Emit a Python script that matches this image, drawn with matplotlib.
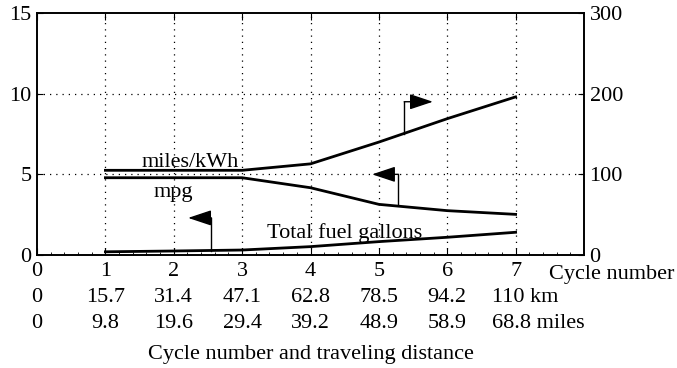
import numpy as np
import matplotlib.pyplot as plt
from matplotlib.ticker import MultipleLocator
import matplotlib.transforms as mtransforms

plt.rcParams['font.family'] = ['Liberation Serif', 'DejaVu Serif']
plt.rcParams['font.size'] = 16

# cycle data
cycles = [1, 2, 3, 4, 5, 6, 7]
miles_per_kwh = [105, 105, 105, 113, 140, 169, 196]   # right axis
mpg = [4.79, 4.79, 4.79, 4.17, 3.14, 2.75, 2.52]       # left axis
fuel_gallons = [0.20, 0.25, 0.31, 0.52, 0.83, 1.10, 1.41]  # left axis

tick_cycles = [0, 1, 2, 3, 4, 5, 6, 7]
km_labels = ['0', '15.7', '31.4', '47.1', '62.8', '78.5', '94.2']
mile_labels = ['0', '9.8', '19.6', '29.4', '39.2', '48.9', '58.9']

fig = plt.figure(figsize=(6.77, 3.68), dpi=100)
ax = fig.add_axes([0.0547, 0.307, 0.8079, 0.6577])
ax2 = ax.twinx()

ax.set_xlim(0, 8)
ax.set_ylim(0, 15)
ax2.set_ylim(0, 300)

dots = (0, (1, 4))
for x in cycles:
    ax.axvline(x, color='black', lw=0.9, ls=dots, zorder=1)
for y in [5, 10]:
    ax.axhline(y, color='black', lw=0.9, ls=dots, zorder=1)

ax.plot(cycles, mpg, color='black', lw=2, zorder=3)
ax.plot(cycles, fuel_gallons, color='black', lw=2, zorder=3)
ax2.plot(cycles, miles_per_kwh, color='black', lw=2, zorder=3)

# curve labels
ax.text(2.24, 5.75, 'miles/kWh', ha='center', va='center')
ax.text(1.99, 3.85, 'mpg', ha='center', va='center')
ax.text(4.5, 1.36, 'Total fuel gallons', ha='center', va='center')

# axis pointers
def pointer(x0, y0, y1, x1):
    ax.plot([x0, x0], [y0, y1], color='black', lw=1, zorder=4)
    ax.annotate('', xy=(x1, y1), xytext=(x0, y1),
                arrowprops=dict(arrowstyle='-|>,head_length=0.9,head_width=0.3',
                                color='black', lw=1, shrinkA=0, shrinkB=0))

pointer(5.37, 7.5, 9.5, 5.79)
pointer(5.28, 3.1, 5.0, 4.9)
pointer(2.55, 0.27, 2.3, 2.21)

# ticks
ax.set_xticks(tick_cycles)
ax.set_xticklabels([str(c) for c in tick_cycles])
ax.xaxis.set_minor_locator(MultipleLocator(0.2))
ax.set_yticks([0, 5, 10, 15])
ax2.set_yticks([0, 100, 200, 300])
ax.tick_params(axis='x', which='major', direction='in', top=True, length=5, pad=5)
ax.tick_params(axis='x', which='minor', direction='in', top=False, length=2)
ax.tick_params(axis='y', direction='in', length=4, pad=4)
ax2.tick_params(axis='y', direction='in', length=4, pad=4)
for a in (ax, ax2):
    for s in a.spines.values():
        s.set_linewidth(1.2)

# distance rows under the cycle numbers
trans = mtransforms.blended_transform_factory(ax.transData, fig.transFigure)
for x, km, mi in zip(tick_cycles, km_labels, mile_labels):
    fig.text(x, 1 - 297 / 368, km, transform=trans, ha='center', va='center')
    fig.text(x, 1 - 324 / 368, mi, transform=trans, ha='center', va='center')
fig.text(6.65, 1 - 297 / 368, '110 km', transform=trans, ha='left', va='center')
fig.text(6.65, 1 - 324 / 368, '68.8 miles', transform=trans, ha='left', va='center')
fig.text(549 / 677, 1 - 275 / 368, 'Cycle number', ha='left', va='center')
fig.text(311 / 677, 1 - 355 / 368, 'Cycle number and traveling distance',
         ha='center', va='center')

fig.savefig('out.png', dpi=100)
